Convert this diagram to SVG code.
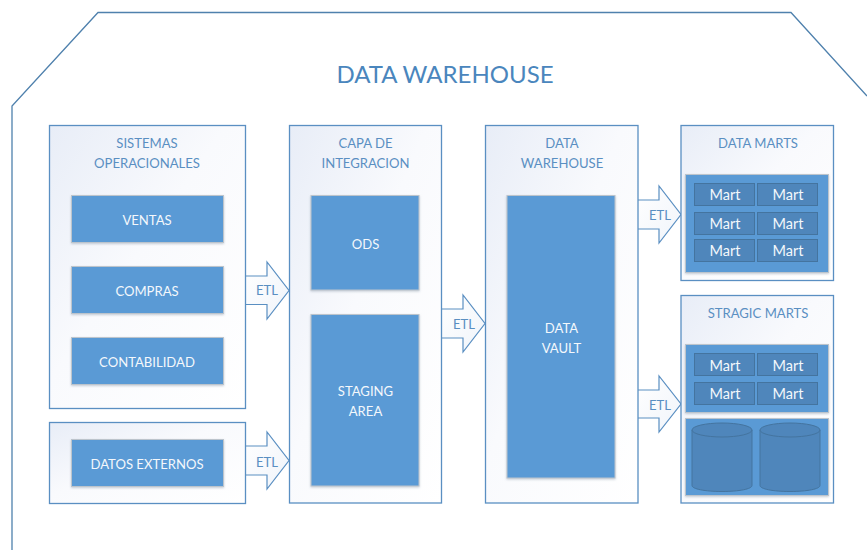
<svg xmlns="http://www.w3.org/2000/svg" width="867" height="550" viewBox="0 0 867 550">
<style>
text{font-family:"Lato","Liberation Sans",sans-serif;text-anchor:middle}
.panel{fill:url(#pg);stroke:#5a8fc2;stroke-width:1.3}
.blue{fill:#5a9ad5;stroke:#bcc4cc;stroke-width:1;filter:url(#sh)}
.mart{fill:#4f86bb;stroke:#44749f;stroke-width:1}
.cyl{fill:#4f86bb;stroke:#44749f;stroke-width:1}
.arrow{fill:url(#ag);stroke:#5a8fc2;stroke-width:1.2;stroke-linejoin:miter}
.title{font-size:13.100px;fill:#5a8fc2}
.white{font-size:13.100px;fill:#f4f8fc}
.mt{font-size:14.500px;fill:#f4f8fc}
.etl{font-size:13.100px;fill:#5a8fc2}
</style>
<defs>
<linearGradient id="pg" x1="0" y1="0" x2="1" y2="1"><stop offset="0" stop-color="#e8edf7"/><stop offset="0.45" stop-color="#f9fafd"/><stop offset="1" stop-color="#ffffff"/></linearGradient>
<linearGradient id="ag" x1="0" y1="0" x2="1" y2="1"><stop offset="0" stop-color="#ffffff"/><stop offset="1" stop-color="#f0f4fa"/></linearGradient>
<filter id="sh" x="-5%" y="-5%" width="110%" height="112%"><feDropShadow dx="0" dy="1" stdDeviation="1" flood-color="#8a9aaa" flood-opacity="0.5"/></filter>
</defs>
<g id="boundary"><path d="M12 550V106L98 12.500H791L867 96" fill="none" stroke="#4f81ad" stroke-width="1.300"/>
<text x="445" y="83" style="font-size:24px;fill:#4a86bd">DATA WAREHOUSE</text></g>
<g id="connectors">
<path class="arrow" d="M245.500 276H267V262L289 290.500L267 319V304.500H245.500"/>
<path class="arrow" d="M245.500 446H267V432L289 460.500L267 489V475H245.500"/>
<path class="arrow" d="M441.500 309H463V295L485 323.500L463 352V338H441.500"/>
<path class="arrow" d="M638 200H659V186L681 214.500L659 243V229H638"/>
<path class="arrow" d="M638 390H659V376L681 404L659 432V418H638"/>
<text class="etl" x="267" y="295">ETL</text>
<text class="etl" x="464" y="329">ETL</text>
<text class="etl" x="267" y="467">ETL</text>
<text class="etl" x="660" y="220">ETL</text>
<text class="etl" x="660" y="410">ETL</text>
</g>
<g id="sistemas"><rect class="panel" x="49.500" y="125.500" width="196" height="283"/>
<text class="title" x="147" y="148">SISTEMAS</text><text class="title" x="147" y="168">OPERACIONALES</text></g>
<g id="ventas"><rect class="blue" x="71.500" y="195.500" width="152" height="47"/><text class="white" x="147" y="225">VENTAS</text></g>
<g id="compras"><rect class="blue" x="71.500" y="266.500" width="152" height="47"/><text class="white" x="147" y="296">COMPRAS</text></g>
<g id="contabilidad"><rect class="blue" x="71.500" y="337.500" width="152" height="47"/><text class="white" x="147" y="367">CONTABILIDAD</text></g>
<g id="externos-panel"><rect class="panel" x="49.500" y="422.500" width="196" height="81"/></g>
<g id="datos-externos"><rect class="blue" x="71.500" y="439.500" width="152" height="47"/><text class="white" x="147" y="469">DATOS EXTERNOS</text></g>
<g id="capa"><rect class="panel" x="289.500" y="125.500" width="152" height="377.500"/>
<text class="title" x="365.500" y="148">CAPA DE</text><text class="title" x="365.500" y="168">INTEGRACION</text></g>
<g id="ods"><rect class="blue" x="311" y="195.500" width="108" height="94.500"/><text class="white" x="365.500" y="249">ODS</text></g>
<g id="staging"><rect class="blue" x="311" y="314.500" width="108" height="171.500"/><text class="white" x="365.500" y="396">STAGING</text><text class="white" x="365.500" y="416">AREA</text></g>
<g id="dw"><rect class="panel" x="485.500" y="125.500" width="152.500" height="377.500"/>
<text class="title" x="562" y="148">DATA</text><text class="title" x="562" y="168">WAREHOUSE</text></g>
<g id="vault"><rect class="blue" x="507" y="195.500" width="108" height="282.500"/><text class="white" x="561.500" y="333">DATA</text><text class="white" x="561.500" y="353">VAULT</text></g>
<g id="data-marts"><rect class="panel" x="681" y="125.500" width="152.500" height="155"/>
<text class="title" x="758" y="148">DATA MARTS</text>
<rect class="blue" x="685.500" y="174.500" width="143" height="98"/>
<rect class="mart" x="694.500" y="183.500" width="60" height="22"/><rect class="mart" x="757.500" y="183.500" width="60" height="22"/>
<rect class="mart" x="694.500" y="212.500" width="60" height="22"/><rect class="mart" x="757.500" y="212.500" width="60" height="22"/>
<rect class="mart" x="694.500" y="239.500" width="60" height="22"/><rect class="mart" x="757.500" y="239.500" width="60" height="22"/>
<text class="mt" x="725" y="200">Mart</text><text class="mt" x="788" y="200">Mart</text>
<text class="mt" x="725" y="229">Mart</text><text class="mt" x="788" y="229">Mart</text>
<text class="mt" x="725" y="256">Mart</text><text class="mt" x="788" y="256">Mart</text></g>
<g id="stragic-marts"><rect class="panel" x="681" y="295.500" width="152.500" height="207.500"/>
<text class="title" x="758" y="318">STRAGIC MARTS</text>
<rect class="blue" x="685.500" y="344.500" width="143" height="68"/>
<rect class="mart" x="694.500" y="353.500" width="60" height="22"/><rect class="mart" x="757.500" y="353.500" width="60" height="22"/>
<rect class="mart" x="694.500" y="382.500" width="60" height="22"/><rect class="mart" x="757.500" y="382.500" width="60" height="22"/>
<text class="mt" x="725" y="371">Mart</text><text class="mt" x="788" y="371">Mart</text>
<text class="mt" x="725" y="399">Mart</text><text class="mt" x="788" y="399">Mart</text>
<rect class="blue" x="685.500" y="418.500" width="143" height="77"/>
<path class="cyl" d="M692 430V485.500C692 489 705 491.500 722 491.500S752 489 752 485.500V430"/><ellipse class="cyl" cx="722" cy="430" rx="30" ry="7"/>
<path class="cyl" d="M760 430V485.500C760 489 773 491.500 790 491.500S820 489 820 485.500V430"/><ellipse class="cyl" cx="790" cy="430" rx="30" ry="7"/></g>
</svg>
